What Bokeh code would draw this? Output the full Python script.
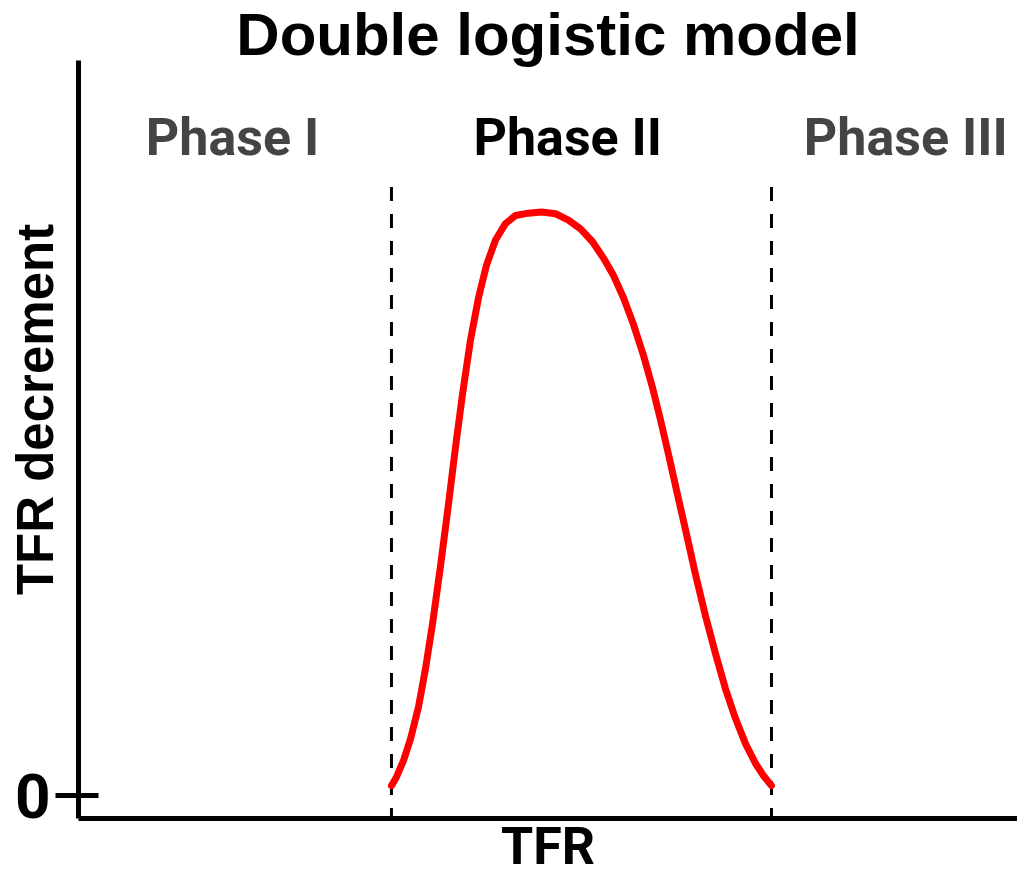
from bokeh.plotting import figure
from bokeh.models import Label, FixedTicker, Range1d, ColumnDataSource
from bokeh.core.properties import value
from bokeh.embed import file_html
from bokeh.resources import INLINE

# ---- data (schematic units: x 0..100 across the axis, peak decrement = 1) ----
curve_x = [33.33, 33.87, 34.61, 35.36, 36.21, 36.95, 37.70, 38.55, 39.40, 40.15,
           40.89, 41.75, 42.60, 43.45, 44.41, 45.47, 46.54, 47.92, 49.31, 50.80,
           52.18, 53.46, 54.74, 55.91, 56.98, 58.04, 59.11, 60.17, 61.13, 61.98,
           62.83, 63.79, 64.75, 65.71, 66.77, 67.84, 68.90, 69.97, 71.03, 72.10,
           72.95, 73.80]
curve_y = [0.017, 0.032, 0.060, 0.097, 0.152, 0.217, 0.294, 0.393, 0.499, 0.597,
           0.687, 0.781, 0.853, 0.909, 0.952, 0.980, 0.994, 0.998, 1.000, 0.997,
           0.986, 0.971, 0.949, 0.921, 0.891, 0.853, 0.807, 0.754, 0.699, 0.644,
           0.585, 0.516, 0.448, 0.379, 0.308, 0.243, 0.183, 0.132, 0.089, 0.055,
           0.034, 0.017]
phase_bounds = [33.33, 73.80]
phase_labels = ["Phase I", "Phase II", "Phase III"]
y_ticks = [0]
y_tick_labels = {0: "0"}

# ---- layout / styling ----
W, H = 1017, 879
X0, X1 = 0, 100
Y0, YTOP_AXIS, YTOP = -0.0393, 1.26, 1.3624

p = figure(width=W, height=H, x_range=Range1d(X0, X1), y_range=Range1d(Y0, YTOP),
           output_backend="svg", toolbar_location=None,
           min_border_left=78, min_border_right=0,
           min_border_top=0, min_border_bottom=59)
p.title = None
p.outline_line_color = None
p.grid.visible = False
p.background_fill_color = "white"
p.border_fill_color = "white"

FONT = "Roboto"
FONT2 = "Liberation Sans"

# left axis: only the "0" tick, label "TFR decrement"
ya = p.yaxis[0]
ya.ticker = FixedTicker(ticks=y_ticks)
ya.major_label_overrides = y_tick_labels
ya.bounds = (Y0, YTOP_AXIS)
ya.axis_line_width = 5
ya.axis_line_color = "black"
ya.major_tick_line_width = 5
ya.major_tick_in = 20
ya.major_tick_out = 23
ya.minor_tick_line_color = None
ya.major_label_text_font = FONT
ya.major_label_text_font_style = "bold"
ya.major_label_text_font_size = "62px"
ya.major_label_text_color = "black"
ya.major_label_standoff = 5
ya.axis_label = "TFR decrement"
ya.axis_label_text_font = FONT2
ya.axis_label_text_font_style = "bold"
ya.axis_label_text_font_size = "51px"
ya.axis_label_text_color = "black"
ya.axis_label_standoff = -52

# bottom axis: no ticks, label "TFR"
xa = p.xaxis[0]
xa.ticker = FixedTicker(ticks=[])
xa.axis_line_width = 5
xa.axis_line_color = "black"
xa.major_tick_line_color = None
xa.major_tick_out = 0
xa.major_tick_in = 0
xa.minor_tick_line_color = None
xa.major_label_text_font_size = "0px"
xa.major_label_standoff = 0
xa.axis_label = "TFR"
xa.axis_label_text_font = FONT
xa.axis_label_text_font_style = "bold"
xa.axis_label_text_font_size = "52px"
xa.axis_label_text_color = "black"
xa.axis_label_text_line_height = 0.8
xa.axis_label_standoff = -3

# dashed phase boundaries
top_dash = 1.043
p.segment(x0=phase_bounds, y0=[top_dash] * len(phase_bounds),
          x1=phase_bounds, y1=[Y0] * len(phase_bounds),
          line_color="black", line_width=3, line_dash="14 13")

# red double-logistic curve
src = ColumnDataSource(dict(x=curve_x, y=curve_y))
p.line("x", "y", source=src, line_color="#ff0000", line_width=7,
       line_cap="round", line_join="round")

# phase labels
label_x = [16.4, 52.1, 88.1]
label_colors = ["#444444", "black", "#444444"]
p.text(x=label_x, y=[1.128] * 3, text=phase_labels,
       text_font=value(FONT), text_font_style="bold", text_font_size="52px",
       text_color=label_colors, text_align="center", text_baseline="alphabetic")

# title
p.add_layout(Label(x=(X0 + X1) / 2, y=1.3048, text="Double logistic model",
                   text_font=FONT2, text_font_style="bold", text_font_size="60px",
                   text_color="black", text_align="center", text_baseline="alphabetic"))

open("out.html", "w").write(file_html(p, INLINE))
